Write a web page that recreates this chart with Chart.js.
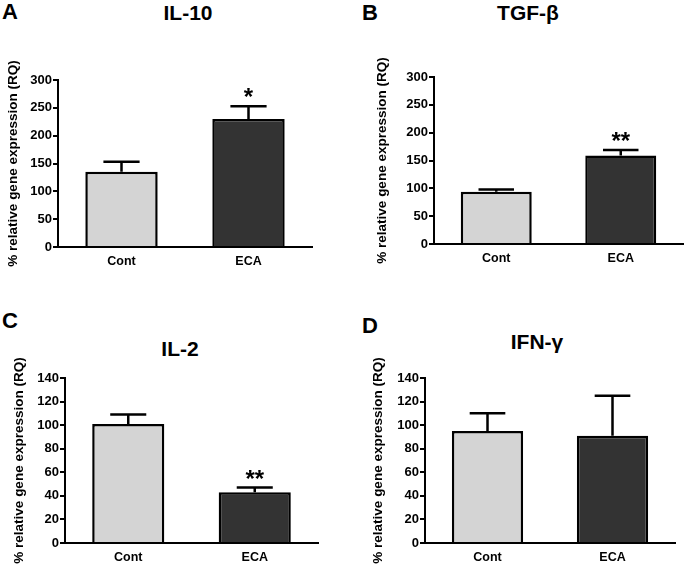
<!DOCTYPE html>
<html>
<head>
<meta charset="utf-8">
<script src="https://cdn.jsdelivr.net/npm/chart.js@4.4.1/dist/chart.umd.min.js"></script>
<style>
  html, body { margin: 0; padding: 0; background: #fff; }
  body { width: 685px; height: 567px; position: relative; overflow: hidden;
         font-family: "Liberation Sans", Arial, sans-serif; }
  .box { position: absolute; }
  .lbl { position: absolute; font-weight: bold; line-height: 1; color: #000; }
  .letter { font-size: 22px; }
  .title { font-size: 21px; width: 200px; text-align: center; }
</style>
</head>
<body>

<div class="lbl letter" style="left:2px;top:1px">A</div>
<div class="lbl letter" style="left:362px;top:2px">B</div>
<div class="lbl letter" style="left:2px;top:310px">C</div>
<div class="lbl letter" style="left:362px;top:315px">D</div>

<div class="lbl title" id="tA" style="left:88px;top:2px"></div>
<div class="lbl title" id="tB" style="left:428px;top:2px"></div>
<div class="lbl title" id="tC" style="left:80px;top:338px"></div>
<div class="lbl title" id="tD" style="left:437px;top:331px"></div>

<div class="box" style="left:0;top:0;width:340px;height:285px"><canvas id="cA"></canvas></div>
<div class="box" style="left:340px;top:0;width:345px;height:285px"><canvas id="cB"></canvas></div>
<div class="box" style="left:0;top:290px;width:340px;height:277px"><canvas id="cC"></canvas></div>
<div class="box" style="left:340px;top:290px;width:345px;height:277px"><canvas id="cD"></canvas></div>

<script>
/* =========================
   DATA
========================= */
const categories = ["Cont", "ECA"];
const titles = ["IL-10", "TGF-β", "IL-2", "IFN-γ"];
const yAxisTitle = "% relative gene expression (RQ)";

const il10Mean = [135, 230];
const il10Sem = [18, 23];
const il10Stars = ["", "*"];

const tgfMean = [94, 159];
const tgfSem = [4, 10];
const tgfStars = ["", "**"];

const il2Mean = [101, 43];
const il2Sem = [8, 4];
const il2Stars = ["", "**"];

const ifnMean = [95, 91];
const ifnSem = [15, 34];
const ifnStars = ["", ""];

const yMaxTop = 300, yStepTop = 50;
const yMaxBottom = 140, yStepBottom = 20;

const barColors = ["#d4d4d4", "#333333"];
const FONT = '"Liberation Sans", Arial, sans-serif';

/* =========================
   ERROR BARS + STARS
========================= */
const errorBars = {
  id: "errorBars",
  afterDatasetsDraw(chart, args, opts) {
    const ctx = chart.ctx;
    const y = chart.scales.y;
    const meta = chart.getDatasetMeta(0);
    const mean = chart.data.datasets[0].data;
    ctx.save();
    ctx.strokeStyle = "#000";
    ctx.fillStyle = "#000";
    ctx.lineWidth = 2.5;
    meta.data.forEach((bar, i) => {
      const top = y.getPixelForValue(mean[i] + opts.sem[i]);
      const half = bar.width / 4;
      ctx.beginPath();
      ctx.moveTo(bar.x, bar.y);
      ctx.lineTo(bar.x, top);
      ctx.moveTo(bar.x - half, top);
      ctx.lineTo(bar.x + half, top);
      ctx.stroke();
      if (opts.stars[i]) {
        ctx.font = "bold 24px " + FONT;
        ctx.textAlign = "center";
        ctx.textBaseline = "alphabetic";
        ctx.fillText(opts.stars[i], bar.x, top - 1);
      }
    });
    ctx.restore();
  }
};

/* =========================
   CHARTS
========================= */
function panel(id, mean, sem, stars, yMax, yStep, pad, yWidth, xHeight) {
  return new Chart(document.getElementById(id), {
    type: "bar",
    data: {
      labels: categories,
      datasets: [{
        data: mean,
        backgroundColor: barColors,
        borderColor: "#000",
        borderWidth: 2.5,
        borderSkipped: "start",
        barPercentage: 0.57,
        categoryPercentage: 1
      }]
    },
    options: {
      responsive: true,
      maintainAspectRatio: false,
      animation: false,
      layout: { padding: pad },
      plugins: {
        legend: { display: false },
        tooltip: { enabled: false },
        errorBars: { sem: sem, stars: stars }
      },
      scales: {
        x: {
          grid: { display: false, drawTicks: false },
          border: { display: true, color: "#000", width: 2 },
          ticks: { color: "#000", padding: 7, font: { family: FONT, size: 12.5, weight: "bold" } },
          afterFit: s => { s.height = xHeight; }
        },
        y: {
          min: 0,
          max: yMax,
          grid: { drawOnChartArea: false, drawTicks: true, tickLength: 5, tickColor: "#000", lineWidth: 2 },
          border: { display: true, color: "#000", width: 2 },
          ticks: { stepSize: yStep, color: "#000", padding: 1, font: { family: FONT, size: 13, weight: "bold" } },
          title: { display: true, text: yAxisTitle, color: "#000", padding: { top: 4, bottom: 4 },
                   font: { family: FONT, size: 13.5, weight: "bold" } },
          afterFit: s => { s.width = yWidth; }
        }
      }
    },
    plugins: [errorBars]
  });
}

/* INIT */
document.getElementById("tA").textContent = titles[0];
document.getElementById("tB").textContent = titles[1];
document.getElementById("tC").textContent = titles[2];
document.getElementById("tD").textContent = titles[3];

panel("cA", il10Mean, il10Sem, il10Stars, yMaxTop, yStepTop,
      { left: 1, top: 80, right: 28, bottom: 8 }, 57, 30);
panel("cB", tgfMean, tgfSem, tgfStars, yMaxTop, yStepTop,
      { left: 30, top: 77, right: 2, bottom: 11 }, 64, 30);
panel("cC", il2Mean, il2Sem, il2Stars, yMaxBottom, yStepBottom,
      { left: 7, top: 88, right: 22, bottom: 1 }, 58, 23);
panel("cD", ifnMean, ifnSem, ifnStars, yMaxBottom, yStepBottom,
      { left: 26, top: 88, right: 10, bottom: 1 }, 59, 23);
</script>
</body>
</html>
